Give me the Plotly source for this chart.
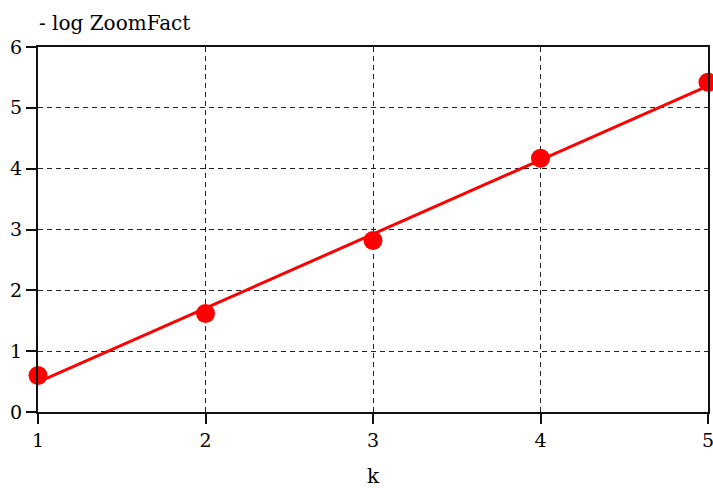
import plotly.graph_objects as go

k = [1, 2, 3, 4, 5]
neg_log_zoom = [0.60, 1.62, 2.82, 4.17, 5.42]
fit_k = [1, 5]
fit_y = [0.49, 5.36]
x_ticks = [1, 2, 3, 4, 5]
y_ticks = [0, 1, 2, 3, 4, 5, 6]

FONT = "DejaVu Serif"
TXT = "#000"

fig = go.Figure()
fig.add_trace(go.Scatter(x=fit_k, y=fit_y, mode="lines",
                         line=dict(color="#ff0000", width=3),
                         cliponaxis=False, showlegend=False, hoverinfo="skip"))
fig.add_trace(go.Scatter(x=k, y=neg_log_zoom, mode="markers",
                         marker=dict(color="#ff0000", size=19),
                         cliponaxis=False, showlegend=False))

axis_common = dict(
    showgrid=True, gridcolor="#222", griddash="5px,4px", gridwidth=1.3,
    showline=True, linecolor="#111", linewidth=2, mirror=True,
    ticks="outside", ticklen=10, tickwidth=2, tickcolor="#111",
    zeroline=False, automargin=False, ticklabeloverflow="allow",
    tickfont=dict(family=FONT, size=19, color=TXT),
)

fig.update_xaxes(range=[1, 5], tickvals=x_ticks, **axis_common,
                 title=dict(text="k", font=dict(family=FONT, size=20, color=TXT), standoff=20))
fig.update_yaxes(range=[0, 6], tickvals=y_ticks, ticklabelstandoff=0, **axis_common)

fig.add_annotation(text="- log ZoomFact", xref="paper", yref="paper",
                   x=0, y=1, xanchor="left", yanchor="bottom", yshift=10, xshift=-1,
                   showarrow=False, font=dict(family=FONT, size=20, color=TXT))

fig.update_layout(
    width=713, height=488,
    margin=dict(l=38, r=5, t=47, b=76),
    plot_bgcolor="white", paper_bgcolor="white",
)

fig.write_html("out.html")
